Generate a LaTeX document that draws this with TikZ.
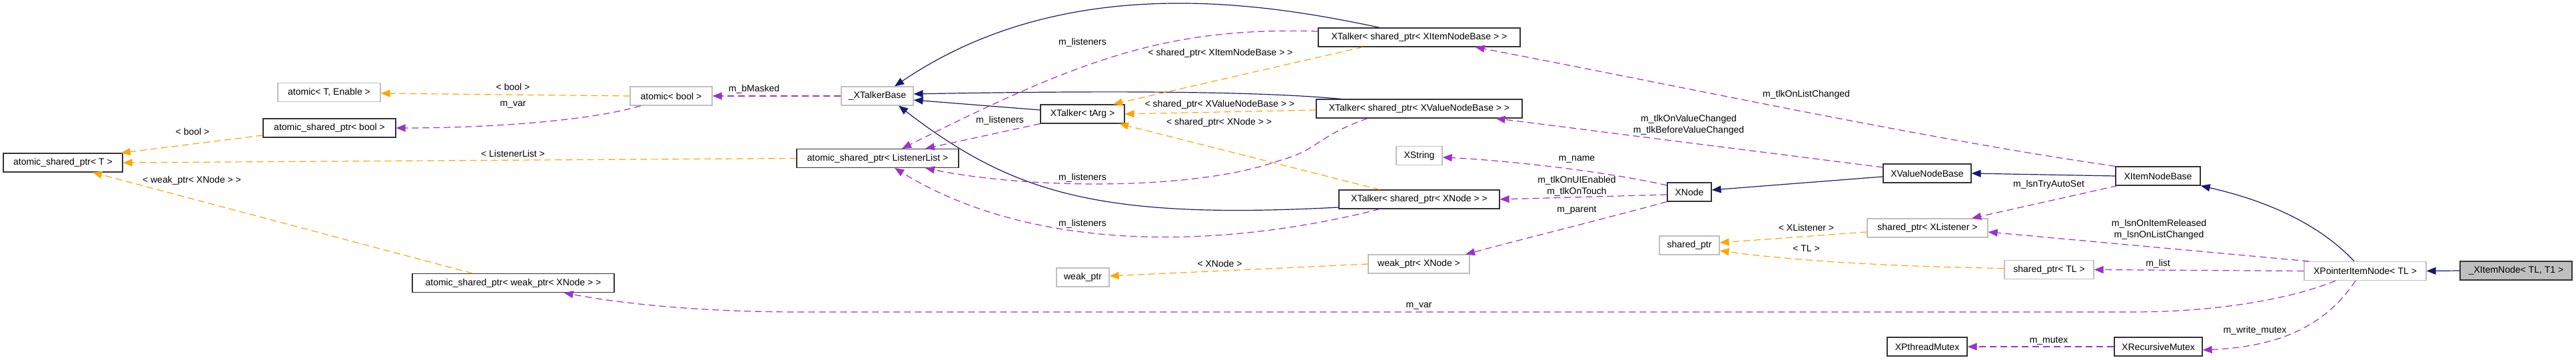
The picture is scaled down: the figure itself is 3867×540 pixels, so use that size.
\documentclass[tikz,border=0pt]{standalone}
\usepackage{fontspec}
\setmainfont{Liberation Sans}
\usetikzlibrary{arrows.meta}
\definecolor{navy}{HTML}{191970}
\definecolor{orchid}{HTML}{9A32CD}
\definecolor{amber}{HTML}{FFA500}

\begin{document}
\begin{tikzpicture}
				[x=1pt, y=-1pt,
				cls/.style = {draw=black!80, line width=1.2pt,
				minimum height=28pt, inner sep=0pt,
				font=\fontsize{14}{17}\selectfont},
				ext/.style = {cls, draw=black!25},
				lbl/.style = {inner sep=0pt, align=center,
				font=\fontsize{14}{17}\selectfont},
				inherit/.style = {->, navy, line width=1.2pt},
				member/.style = {->, orchid, line width=1.2pt, dash pattern=on 10pt off 6pt},
				tmpl/.style = {->, amber, line width=1.2pt, dash pattern=on 10pt off 6pt},
				>={Triangle[length=14pt, width=11pt]}]
				\useasboundingbox (0,0) rectangle (3867,540);
				\node[cls, minimum width=179pt] (aspT) at (94.5,244) {atomic\_shared\_ptr< T >};
				\node[ext, minimum width=154pt] (atomicTE) at (494,138.5) {atomic< T, Enable >};
				\node[cls, minimum width=199pt] (aspBool) at (494.5,192) {atomic\_shared\_ptr< bool >};
				\node[cls, minimum width=303pt] (aspWeak) at (770.5,424.5) {atomic\_shared\_ptr< weak\_ptr< XNode > >};
				\node[ext, minimum width=123pt] (atomicBool) at (1007.5,144) {atomic< bool >};
				\node[ext, minimum width=108pt] (talkerBase) at (1317,144) {\_XTalkerBase};
				\node[cls, minimum width=243pt] (aspList) at (1317.5,237.5) {atomic\_shared\_ptr< ListenerList >};
				\node[cls, minimum width=126pt] (talkerArg) at (1625,171) {XTalker< tArg >};
				\node[ext, minimum width=79pt] (weakPtr) at (1625.5,416) {weak\_ptr};
				\node[cls, minimum width=303pt] (talkerItem) at (2130.5,56) {XTalker< shared\_ptr< XItemNodeBase > >};
				\node[cls, minimum width=309pt] (talkerValue) at (2130.5,163) {XTalker< shared\_ptr< XValueNodeBase > >};
				\node[ext, minimum width=69pt] (xString) at (2130.5,233.5) {XString};
				\node[cls, minimum width=241pt] (talkerNode) at (2130.5,299) {XTalker< shared\_ptr< XNode > >};
				\node[ext, minimum width=152pt] (weakNode) at (2130,396) {weak\_ptr< XNode >};
				\node[cls, minimum width=66pt] (xNode) at (2536,288) {XNode};
				\node[ext, minimum width=90pt] (sharedPtr) at (2536,368) {shared\_ptr};
				\node[cls, minimum width=132pt] (valueBase) at (2893,260) {XValueNodeBase};
				\node[ext, minimum width=181pt] (lsnPtr) at (2893.5,342) {shared\_ptr< XListener >};
				\node[cls, minimum width=120pt] (pthreadMutex) at (2893,520) {XPthreadMutex};
				\node[cls, minimum width=127pt] (itemBase) at (3239.5,264) {XItemNodeBase};
				\node[ext, minimum width=134pt] (tlPtr) at (3076,404.5) {shared\_ptr< TL >};
				\node[cls, minimum width=132pt] (recMutex) at (3240,520) {XRecursiveMutex};
				\node[ext, minimum width=183pt] (ptrItem) at (3550.5,406.5) {XPointerItemNode< TL >};
				\node[cls, minimum width=168pt, fill=black!25] (xItemNode) at (3777,406) {\_XItemNode< TL, T1 >};
				\draw[tmpl] ([yshift=-11pt]aspBool.west) -- ([xshift=-3pt]aspT.north east);
				\draw[tmpl] (aspList.west) -- (aspT.east);
				\draw[tmpl] ([xshift=-61.5pt]aspWeak.north) -- ([xshift=44.5pt]aspT.south);
				\draw[tmpl] (atomicBool.west) -- ([yshift=-1.5pt]atomicTE.east);
				\draw[member] ([xshift=-45.5pt]atomicBool.south) .. controls (880,183) and (720,192) .. (aspBool.east);
				\draw[member] (talkerBase.west) -- (atomicBool.east);
				\draw[inherit] ([yshift=6pt]talkerArg.west) -- ([yshift=-6pt]talkerBase.east);
				\draw[inherit] ([xshift=-59.5pt]talkerItem.north) .. controls (1900,5) and (1600,-45) .. ([xshift=26pt]talkerBase.north);
				\draw[inherit] ([xshift=-117.5pt]talkerValue.north) .. controls (1900,138) and (1700,135) .. ([yshift=3pt]talkerBase.east);
				\draw[inherit] ([yshift=-12pt]talkerNode.west) .. controls (1650,330) and (1520,290) .. ([xshift=32pt]talkerBase.south);
				\draw[member] (talkerArg.south west) -- ([xshift=71.5pt]aspList.north);
				\draw[member] ([yshift=9pt]talkerItem.west) .. controls (1750,40) and (1620,90) .. ([xshift=36.5pt]aspList.north);
				\draw[member] ([xshift=-77.5pt]talkerValue.south) .. controls (1975,205) and (1980,225) .. (1920,241) .. controls (1800,285) and (1550,285) .. ([xshift=71.5pt]aspList.south);
				\draw[member] ([xshift=-59.5pt]talkerNode.south) .. controls (1850,370) and (1560,385) .. ([xshift=25.5pt]aspList.south);
				\draw[tmpl] ([xshift=-84.5pt]talkerItem.south) -- ([xshift=46pt]talkerArg.north);
				\draw[tmpl] ([yshift=-2pt]talkerValue.west) -- (talkerArg.east);
				\draw[tmpl] ([xshift=-59.5pt]talkerNode.north) -- ([xshift=55pt]talkerArg.south);
				\draw[member] ([yshift=10pt]xNode.west) .. controls (2400,255) and (2250,240) .. ([yshift=-2.5pt]xString.east);
				\draw[member] ([yshift=-4pt]xNode.west) -- (talkerNode.east);
				\draw[member] (xNode.south west) .. controls (2420,325) and (2300,355) .. ([xshift=70pt]weakNode.north);
				\draw[tmpl] (weakNode.west) -- ([yshift=2pt]weakPtr.east);
				\draw[inherit] ([yshift=-5pt]valueBase.west) -- ([yshift=3pt]xNode.east);
				\draw[member] ([yshift=9pt]valueBase.west) -- ([xshift=115pt]talkerValue.south);
				\draw[member] (itemBase.north west) .. controls (2900,210) and (2550,135) .. ([xshift=84pt]talkerItem.south);
				\draw[inherit] (itemBase.west) -- (valueBase.east);
				\draw[member] ([xshift=3pt]itemBase.south west) -- ([xshift=66.5pt]lsnPtr.north);
				\draw[tmpl] ([yshift=-6pt]lsnPtr.west) -- ([yshift=4pt]sharedPtr.east);
				\draw[tmpl] ([yshift=2pt]tlPtr.west) .. controls (2850,400) and (2700,392) .. ([yshift=-8pt]sharedPtr.east);
				\draw[inherit] ([xshift=-16.5pt]ptrItem.north) .. controls (3490,345) and (3420,305) .. (itemBase.south east);
				\draw[member] ([xshift=-84.5pt]ptrItem.north) -- ([yshift=-6pt]lsnPtr.east);
				\draw[member] (ptrItem.west) -- (tlPtr.east);
				\draw[member] ([xshift=-44.5pt]ptrItem.south) .. controls (3440,448) and (3330,468) .. (3200,468) -- (1200,468) .. controls (1050,468) and (930,455) .. ([xshift=76pt]aspWeak.south);
				\draw[member] ([xshift=-14.5pt]ptrItem.south) .. controls (3490,490) and (3420,520) .. ([yshift=-5pt]recMutex.east);
				\draw[member] (recMutex.west) -- (pthreadMutex.east);
				\draw[inherit] (xItemNode.west) -- (ptrItem.east);
				\node[lbl] (lBoolT) at (289,197) {< bool >};
				\node[lbl] (lWeakT) at (288,271) {< weak\_ptr< XNode > >};
				\node[lbl] (lBoolA) at (770,130) {< bool >};
				\node[lbl] (lVarA) at (770,157) {m\_var};
				\node[lbl] (lMasked) at (1132,134) {m\_bMasked};
				\node[lbl] (lList) at (770,230) {< ListenerList >};
				\node[lbl] (lLsnItem) at (1625,64) {m\_listeners};
				\node[lbl] (lItemT) at (1832,80) {< shared\_ptr< XItemNodeBase > >};
				\node[lbl] (lLsnArg) at (1501,181) {m\_listeners};
				\node[lbl] (lValueT) at (1831,157) {< shared\_ptr< XValueNodeBase > >};
				\node[lbl] (lNodeT) at (1830,184) {< shared\_ptr< XNode > >};
				\node[lbl] (lLsnValue) at (1625,267) {m\_listeners};
				\node[lbl] (lLsnNode) at (1625,336) {m\_listeners};
				\node[lbl] (lXNodeT) at (1831,395) {< XNode >};
				\node[lbl] (lName) at (2367,239) {m\_name};
				\node[lbl] (lTouch) at (2367,279.5) {m\_tlkOnUIEnabled\\m\_tlkOnTouch};
				\node[lbl] (lParent) at (2367,315) {m\_parent};
				\node[lbl] (lVarB) at (2130,459) {m\_var};
				\node[lbl] (lValueCh) at (2535,187) {m\_tlkOnValueChanged\\m\_tlkBeforeValueChanged};
				\node[lbl] (lListCh) at (2711.5,142) {m\_tlkOnListChanged};
				\node[lbl] (lAutoSet) at (3075.5,277) {m\_lsnTryAutoSet};
				\node[lbl] (lXLsnT) at (2711.5,341) {< XListener >};
				\node[lbl] (lTLT) at (2711.5,373) {< TL >};
				\node[lbl] (lReleased) at (3241,344.5) {m\_lsnOnItemReleased\\m\_lsnOnListChanged};
				\node[lbl] (lListM) at (3239.5,396) {m\_list};
				\node[lbl] (lMutex) at (3075.5,511) {m\_mutex};
				\node[lbl] (lWrite) at (3385,495.5) {m\_write\_mutex};
			\end{tikzpicture}
\end{document}
